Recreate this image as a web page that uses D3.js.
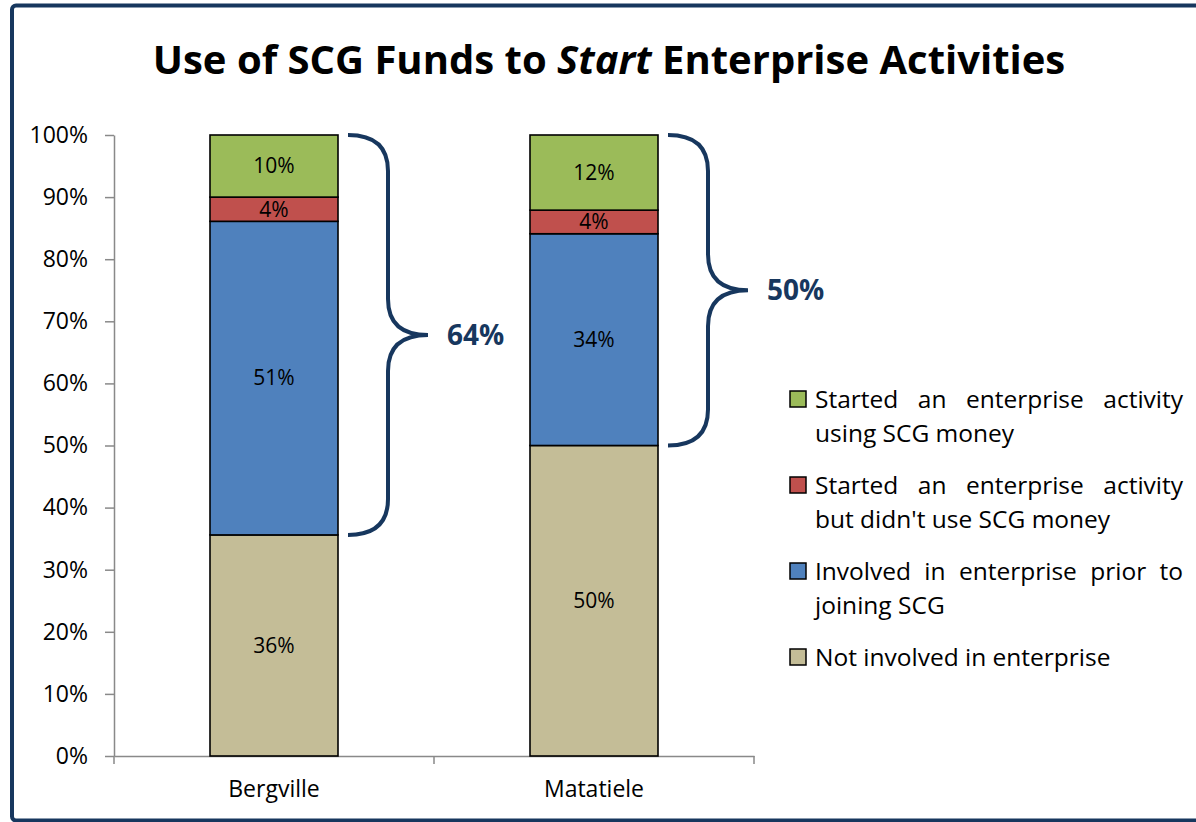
<!DOCTYPE html>
<html>
<head>
<meta charset="utf-8">
<script src="https://cdn.jsdelivr.net/npm/d3@7"></script>
<style>
  body { margin: 0; background: #fff; }
  svg { display: block; font-family: "Open Sans", sans-serif; }
</style>
</head>
<body>
<svg id="chart" width="1196" height="822"></svg>
<script>
// data (percent of members)
var regions = ["Bergville", "Matatiele"];
var seriesKeys = ["notInvolved", "prior", "noMoney", "usingMoney"];
var notInvolved = [35.6, 50.0];
var prior = [50.5, 34.1];
var noMoney = [3.9, 3.8];
var usingMoney = [10.0, 12.1];
var barLabels = [["36%", "51%", "4%", "10%"], ["50%", "34%", "4%", "12%"]];
var colors = ["#C4BD97", "#4F81BD", "#C0504D", "#9BBB59"];
var yTicks = [0, 10, 20, 30, 40, 50, 60, 70, 80, 90, 100];
// legend, top to bottom (lines as broken in the original)
var legendLines = [
  ["Started an enterprise activity", "using SCG money"],
  ["Started an enterprise activity", "but didn't use SCG money"],
  ["Involved in enterprise prior to", "joining SCG"],
  ["Not involved in enterprise"]
];
var legendColors = ["#9BBB59", "#C0504D", "#4F81BD", "#C4BD97"];

var svg = d3.select("#chart");
var navy = "#17375E";

// outer frame
svg.append("rect")
  .attr("x", 12).attr("y", 5.5)
  .attr("width", 1210).attr("height", 815)
  .attr("rx", 4)
  .attr("fill", "none")
  .attr("stroke", navy)
  .attr("stroke-width", 4);

// title
var title = svg.append("text")
  .attr("x", 609).attr("y", 74)
  .attr("text-anchor", "middle")
  .attr("font-size", 40)
  .attr("font-weight", "bold")
  .attr("fill", "#000");
title.append("tspan").text("Use of SCG Funds to ");
title.append("tspan").attr("font-style", "italic").text("Start");
title.append("tspan").text(" Enterprise Activities");

var table = regions.map(function(r, i) {
  return {region: r, notInvolved: notInvolved[i], prior: prior[i], noMoney: noMoney[i], usingMoney: usingMoney[i]};
});

var x = d3.scaleBand().domain(regions).range([114, 754]);
var y = d3.scaleLinear().domain([0, 100]).range([756, 135]);
var barW = x.bandwidth() * 0.4;

var stacked = d3.stack().keys(seriesKeys)(table);

// y axis
var yAxis = svg.append("g")
  .attr("transform", "translate(114,0)")
  .call(d3.axisLeft(y).tickValues(yTicks).tickFormat(function(d) { return d + "%"; })
    .tickSize(9).tickSizeOuter(0).tickPadding(17));
yAxis.selectAll("line, path").attr("stroke", "#898989").attr("stroke-width", 1.5);
yAxis.selectAll("text").attr("font-size", 23).attr("font-family", "Open Sans").attr("fill", "#000");

// x axis
var xAxis = svg.append("g")
  .attr("transform", "translate(0,756)")
  .call(d3.axisBottom(x).tickSize(0).tickSizeOuter(0).tickPadding(25));
xAxis.select("path").attr("stroke", "#898989").attr("stroke-width", 1.5);
xAxis.selectAll("text").attr("font-size", 23).attr("font-family", "Open Sans").attr("fill", "#000");
var xEdges = regions.map(function(r) { return x(r); }).concat([x.range()[1]]);
xAxis.selectAll(".edge").data(xEdges).enter().append("line")
  .attr("x1", function(d) { return d; }).attr("x2", function(d) { return d; })
  .attr("y1", 0).attr("y2", 8)
  .attr("stroke", "#898989").attr("stroke-width", 1.5);

// bars
var layers = svg.selectAll(".layer").data(stacked).enter().append("g")
  .attr("class", "layer")
  .attr("fill", function(d, i) { return colors[i]; });

layers.selectAll("rect").data(function(d) { return d; }).enter().append("rect")
  .attr("x", function(d) { return x(d.data.region) + (x.bandwidth() - barW) / 2; })
  .attr("y", function(d) { return y(d[1]); })
  .attr("width", barW)
  .attr("height", function(d) { return y(d[0]) - y(d[1]); })
  .attr("stroke", "#000")
  .attr("stroke-width", 1.6);

layers.each(function(layer, li) {
  d3.select(this).selectAll("text").data(layer).enter().append("text")
    .attr("x", function(d) { return x(d.data.region) + x.bandwidth() / 2; })
    .attr("y", function(d) { return (y(d[0]) + y(d[1])) / 2; })
    .attr("dy", "0.35em")
    .attr("text-anchor", "middle")
    .attr("font-size", 21)
    .attr("fill", "#000")
    .text(function(d, i) { return barLabels[i][li]; });
});

// braces over the "involved" share
function bracePath(x0, yTop, yBot) {
  var w = 40, r = 36, yMid = (yTop + yBot) / 2;
  return "M" + x0 + "," + yTop +
    " Q" + (x0 + w) + "," + yTop + " " + (x0 + w) + "," + (yTop + r) +
    " L" + (x0 + w) + "," + (yMid - r) +
    " Q" + (x0 + w) + "," + yMid + " " + (x0 + 2 * w) + "," + yMid +
    " Q" + (x0 + w) + "," + yMid + " " + (x0 + w) + "," + (yMid + r) +
    " L" + (x0 + w) + "," + (yBot - r) +
    " Q" + (x0 + w) + "," + yBot + " " + x0 + "," + yBot;
}

table.forEach(function(d) {
  var x0 = x(d.region) + (x.bandwidth() + barW) / 2 + 10;
  var yTop = y(100), yBot = y(d.notInvolved);
  svg.append("path")
    .attr("d", bracePath(x0, yTop, yBot))
    .attr("fill", "none")
    .attr("stroke", navy)
    .attr("stroke-width", 4);
  svg.append("text")
    .attr("x", x0 + 99)
    .attr("y", (yTop + yBot) / 2)
    .attr("dy", "0.35em")
    .attr("font-size", 28)
    .attr("font-weight", "bold")
    .attr("fill", navy)
    .text(Math.round(100 - d.notInvolved) + "%");
});

// legend, justified lines like the original text box
var legX = 815, legRight = 1183;
var legend = svg.append("g").attr("font-size", 24.5).attr("fill", "#000");

function textWidth(s) {
  var t = legend.append("text").text(s);
  var w = t.node().getComputedTextLength();
  t.remove();
  return w;
}

legendLines.forEach(function(lines, i) {
  var base = 408 + i * 86;
  legend.append("rect")
    .attr("x", 790).attr("y", base - 17)
    .attr("width", 16).attr("height", 16)
    .attr("fill", legendColors[i])
    .attr("stroke", "#000")
    .attr("stroke-width", 1.5);
  lines.forEach(function(line, j) {
    var ly = base + j * 34;
    var justify = j < lines.length - 1;
    if (!justify) {
      legend.append("text").attr("x", legX).attr("y", ly).text(line);
      return;
    }
    var words = line.split(" ");
    var widths = words.map(textWidth);
    var gap = (legRight - legX - d3.sum(widths)) / (words.length - 1);
    var cx = legX;
    words.forEach(function(w, k) {
      legend.append("text").attr("x", cx).attr("y", ly).text(w);
      cx += widths[k] + gap;
    });
  });
});
</script>
</body>
</html>
